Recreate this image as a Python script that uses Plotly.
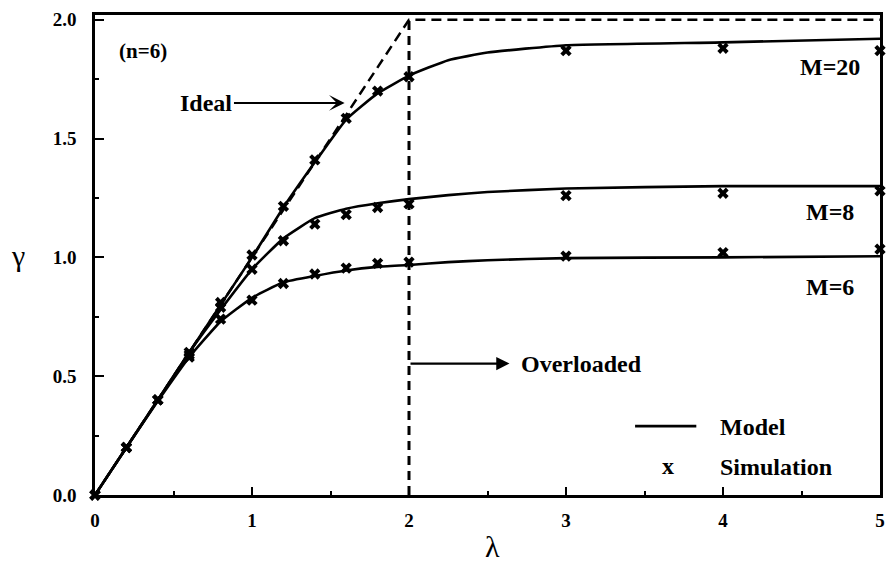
import plotly.graph_objects as go

# ---- data ----
lam_model = [0, 0.2, 0.4, 0.6, 0.8, 1.0, 1.2, 1.4, 1.6, 1.8, 2.0, 2.25, 2.5, 3, 4, 5]
m20_model = [0, 0.20, 0.40, 0.60, 0.80, 1.00, 1.21, 1.40, 1.58, 1.69, 1.765, 1.83, 1.862, 1.893, 1.905, 1.92]
m8_model = [0, 0.20, 0.40, 0.60, 0.78, 0.95, 1.08, 1.165, 1.205, 1.228, 1.245, 1.262, 1.275, 1.29, 1.30, 1.30]
m6_model = [0, 0.20, 0.395, 0.58, 0.73, 0.83, 0.895, 0.922, 0.945, 0.96, 0.968, 0.98, 0.988, 0.997, 1.0, 1.005]

lam_sim = [0, 0.2, 0.4, 0.6, 0.8, 1.0, 1.2, 1.4, 1.6, 1.8, 2.0, 3, 4, 5]
m20_sim = [0, 0.20, 0.40, 0.60, 0.81, 1.01, 1.215, 1.41, 1.585, 1.70, 1.76, 1.87, 1.88, 1.87]
m8_sim = [0, 0.20, 0.40, 0.59, 0.79, 0.95, 1.07, 1.14, 1.18, 1.21, 1.225, 1.26, 1.27, 1.28]
m6_sim = [0, 0.20, 0.40, 0.58, 0.74, 0.82, 0.89, 0.93, 0.955, 0.975, 0.98, 1.005, 1.02, 1.035]

ideal_x = [0, 2, 5]
ideal_y = [0, 2.0, 2.0]
overload_x = [2, 2]
overload_y = [0, 2.0]

x_ticks = [0, 1, 2, 3, 4, 5]
y_ticks = [0.0, 0.5, 1.0, 1.5, 2.0]

SERIF = "Liberation Serif"
BLACK = "#000000"

fig = go.Figure()

# ideal dashed line and overload boundary
fig.add_trace(go.Scatter(x=ideal_x, y=ideal_y, mode="lines",
                         line=dict(color=BLACK, width=2.5, dash="10px,6px"),
                         showlegend=False, hoverinfo="skip", cliponaxis=False))
fig.add_trace(go.Scatter(x=overload_x, y=overload_y, mode="lines",
                         line=dict(color=BLACK, width=3, dash="9px,6px"),
                         showlegend=False, hoverinfo="skip"))

for ym in (m20_model, m8_model, m6_model):
    fig.add_trace(go.Scatter(x=lam_model, y=ym, mode="lines",
                             line=dict(color=BLACK, width=2.6, shape="spline", smoothing=0.4),
                             showlegend=False, hoverinfo="skip", cliponaxis=False))

for ys in (m20_sim, m8_sim, m6_sim):
    fig.add_trace(go.Scatter(x=lam_sim, y=ys, mode="markers",
                             marker=dict(symbol="x", size=10, color=BLACK,
                                         line=dict(width=0)),
                             showlegend=False, hoverinfo="skip", cliponaxis=False))

txt = dict(family=SERIF, size=24, color=BLACK, weight="bold")

annotations = [
    dict(x=0.14, y=1.87, text="(n=6)", showarrow=False, xanchor="left",
         font=dict(family=SERIF, size=21, color=BLACK, weight="bold")),
    dict(x=1.59, y=1.65, ax=0.71, ay=1.65, axref="x", ayref="y",
         text="Ideal", showarrow=True, arrowhead=3, arrowsize=1.3, arrowwidth=2,
         arrowcolor=BLACK, font=txt, standoff=0),
    dict(x=2.64, y=0.553, ax=2.0, ay=0.553, axref="x", ayref="y",
         text="", showarrow=True, arrowhead=2, arrowsize=1.2, arrowwidth=2.2,
         arrowcolor=BLACK),
    dict(x=2.70, y=0.553, text="Overloaded", showarrow=False, xanchor="left", font=txt),
    dict(x=4.68, y=1.80, text="M=20", showarrow=False, font=txt),
    dict(x=4.68, y=1.19, text="M=8", showarrow=False, font=txt),
    dict(x=4.68, y=0.875, text="M=6", showarrow=False, font=txt),
    dict(x=3.97, y=0.285, text="Model", showarrow=False, xanchor="left", font=txt),
    dict(x=3.65, y=0.12, text="x", showarrow=False, font=txt),
    dict(x=3.97, y=0.117, text="Simulation", showarrow=False, xanchor="left", font=txt),
    dict(x=-0.11, y=0.50, xref="paper", yref="paper", text="γ", showarrow=False,
         font=dict(family=SERIF, size=30, color=BLACK)),
    dict(x=0.506, y=-0.145, xref="paper", yref="paper", text="λ", showarrow=False,
         font=dict(family=SERIF, size=30, color=BLACK)),
]

shapes = [
    dict(type="line", x0=3.44, x1=3.83, y0=0.29, y1=0.29, xref="x", yref="y",
         line=dict(color=BLACK, width=2.6)),
]

tickfont = dict(family=SERIF, size=19, color=BLACK, weight="bold")

fig.update_layout(
    width=894, height=565,
    margin=dict(l=95, r=9, t=13, b=70),
    paper_bgcolor="white", plot_bgcolor="white",
    annotations=annotations, shapes=shapes,
    showlegend=False,
    xaxis=dict(range=[0, 5], tickvals=x_ticks, ticktext=[str(v) for v in x_ticks],
               ticks="inside", ticklen=8, tickwidth=2, tickcolor=BLACK,
               showline=True, linewidth=3, linecolor=BLACK, mirror=True,
               showgrid=False, zeroline=False, tickfont=tickfont,
               ticklabelstandoff=6,
               minor=dict(dtick=0.5, tick0=0, ticks="inside", ticklen=4,
                          tickwidth=2, tickcolor=BLACK, showgrid=False)),
    yaxis=dict(range=[0, 2.02], tickvals=y_ticks,
               ticktext=[f"{v:.1f}" for v in y_ticks],
               ticks="inside", ticklen=9, tickwidth=2, tickcolor=BLACK,
               showline=True, linewidth=2.5, linecolor=BLACK, mirror=True,
               showgrid=False, zeroline=False, tickfont=tickfont,
               ticklabelstandoff=12,
               minor=dict(dtick=0.25, tick0=0, ticks="inside", ticklen=4,
                          tickwidth=2, tickcolor=BLACK, showgrid=False)),
)

fig.write_html("out.html")
